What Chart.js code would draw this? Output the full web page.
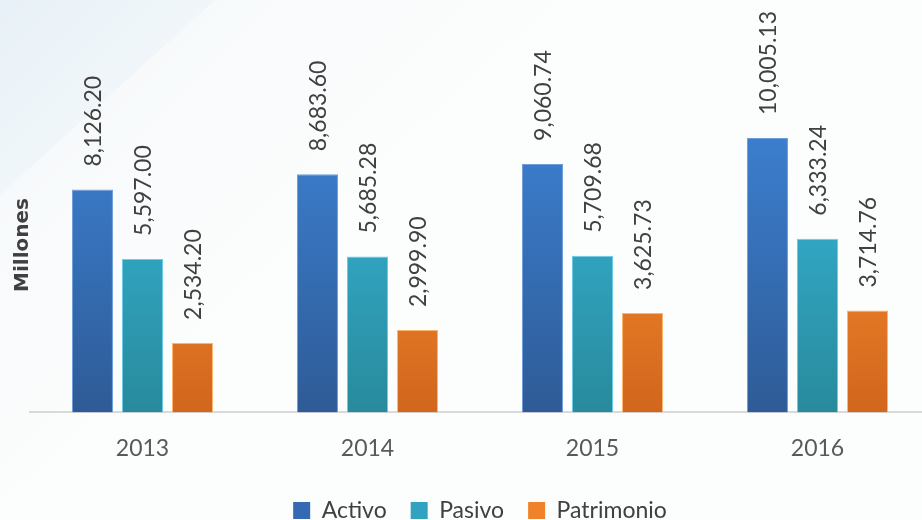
<!DOCTYPE html>
<html>
<head>
<meta charset="utf-8">
<script src="https://cdn.jsdelivr.net/npm/chart.js@4"></script>
<style>
  html, body { margin: 0; padding: 0; background: #ffffff; overflow: hidden; }
  #wrap { width: 922px; height: 520px; overflow: hidden; }
</style>
</head>
<body>
<div id="wrap"><canvas id="chart" width="930" height="520"></canvas></div>
<script>
const years = ['2013', '2014', '2015', '2016'];
const activo = [8126.20, 8683.60, 9060.74, 10005.13];
const pasivo = [5597.00, 5685.28, 5709.68, 6333.24];
const patrimonio = [2534.20, 2999.90, 3625.73, 3714.76];

const FONT = 'Lato, "Open Sans", sans-serif';

function vGrad(top, bottom) {
    return function (context) {
        const area = context.chart.chartArea;
        if (!area) return top;
        const g = context.chart.ctx.createLinearGradient(0, area.top + 130, 0, area.bottom);
        g.addColorStop(0, top);
        g.addColorStop(1, bottom);
        return g;
    };
}

// soft pale shapes behind the chart
const backdrop = {
    id: 'backdrop',
    beforeDraw(chart) {
        const ctx = chart.ctx;
        ctx.save();
        ctx.fillStyle = '#fcfdfd';
        ctx.fillRect(0, 0, chart.width, chart.height);

        let g = ctx.createLinearGradient(0, 0, 300, 300);
        g.addColorStop(0, 'rgba(238,244,248,0.7)');
        g.addColorStop(1, 'rgba(246,249,251,0.0)');
        ctx.fillStyle = g;
        ctx.beginPath();
        ctx.moveTo(0, 0);
        ctx.lineTo(560, 0);
        ctx.lineTo(0, 500);
        ctx.closePath();
        ctx.fill();

        g = ctx.createLinearGradient(0, 0, 200, 200);
        g.addColorStop(0, 'rgba(232,241,247,1)');
        g.addColorStop(1, 'rgba(240,246,250,0.3)');
        ctx.fillStyle = g;
        ctx.beginPath();
        ctx.moveTo(0, 0);
        ctx.lineTo(215, 0);
        ctx.lineTo(0, 195);
        ctx.closePath();
        ctx.fill();
        ctx.restore();
    }
};

// rotated value labels and the axis title
const valueLabels = {
    id: 'valueLabels',
    afterDatasetsDraw(chart) {
        const ctx = chart.ctx;
        ctx.save();
        ctx.fillStyle = '#404040';
        ctx.font = '23px ' + FONT;
        ctx.textAlign = 'left';
        ctx.textBaseline = 'middle';
        chart.data.datasets.forEach((ds, i) => {
            chart.getDatasetMeta(i).data.forEach((bar, j) => {
                const txt = ds.data[j].toLocaleString('en-US', { minimumFractionDigits: 2, maximumFractionDigits: 2 });
                ctx.save();
                ctx.translate(bar.x + 1, bar.y - 23);
                ctx.rotate(-Math.PI / 2);
                ctx.fillText(txt, 0, 0);
                ctx.restore();
            });
        });

        ctx.font = 'bold 20px "DejaVu Sans", sans-serif';
        ctx.fillStyle = '#404040';
        ctx.textAlign = 'center';
        ctx.translate(23, 245);
        ctx.rotate(-Math.PI / 2);
        ctx.fillText('Millones', 0, 0);
        ctx.restore();
    }
};

const ctx = document.getElementById('chart').getContext('2d');
new Chart(ctx, {
    type: 'bar',
    data: {
        labels: years,
        datasets: [
            {
                label: 'Activo',
                data: activo,
                backgroundColor: vGrad('#3c7fcf', '#2e5b97'),
                borderColor: '#6f9edb',
                borderWidth: 1
            },
            {
                label: 'Pasivo',
                data: pasivo,
                backgroundColor: vGrad('#37b6da', '#288a9c'),
                borderColor: '#6ccbe5',
                borderWidth: 1
            },
            {
                label: 'Patrimonio',
                data: patrimonio,
                backgroundColor: vGrad('#ff9532', '#d1661d'),
                borderColor: '#ffb46e',
                borderWidth: 1
            }
        ]
    },
    options: {
        responsive: false,
        animation: false,
        devicePixelRatio: 1,
        layout: { padding: { top: 1, left: 30, right: 0, bottom: -12 } },
        datasets: {
            bar: { categoryPercentage: 0.667, barPercentage: 0.82 }
        },
        scales: {
            x: {
                grid: { display: false, drawTicks: false },
                border: { display: true, color: '#d9d9d9', width: 2 },
                ticks: { color: '#595959', font: { family: FONT, size: 23 }, padding: 22 },
                afterFit(scale) { scale.height -= 9; }
            },
            y: {
                display: false,
                min: 0,
                max: 15000
            }
        },
        plugins: {
            legend: {
                position: 'bottom',
                labels: {
                    color: '#404040',
                    font: { family: FONT, size: 23 },
                    boxWidth: 17,
                    boxHeight: 17,
                    padding: 24,
                    generateLabels(chart) {
                        const fills = ['#3469b3', '#31a3c1', '#f0832a'];
                        return chart.data.datasets.map((ds, i) => ({
                            text: ds.label,
                            fillStyle: fills[i],
                            strokeStyle: fills[i],
                            lineWidth: 0,
                            fontColor: '#404040',
                            datasetIndex: i
                        }));
                    }
                }
            },
            tooltip: { enabled: false }
        }
    },
    plugins: [backdrop, valueLabels]
});
</script>
</body>
</html>
